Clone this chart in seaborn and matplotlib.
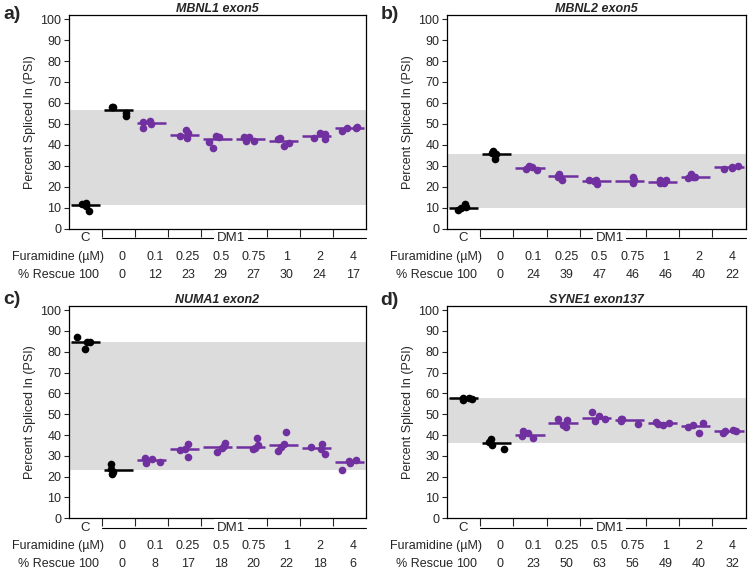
"""
Furamidine rescue of mis-splicing in DM1 cells: PSI per treatment group (4 panels)
"""

import numpy as np
import pandas as pd
import matplotlib
matplotlib.use("Agg")
import matplotlib.pyplot as plt
import matplotlib.transforms as mtransforms
import seaborn as sns

# 组别 (C = control, 其余 = DM1 + furamidine µM)
GROUPS = ["C", "0", "0.1", "0.25", "0.5", "0.75", "1", "2", "4"]
DOSES = ["", "0", "0.1", "0.25", "0.5", "0.75", "1", "2", "4"]

# panel a) MBNL1 exon5
PSI_A = [
    [11.0, 8.5, 11.6, 12.3],
    [53.7, 55.0, 57.9, 58.0],
    [47.9, 51.2, 51.0, 49.9],
    [43.1, 44.2, 45.5, 47.1],
    [41.5, 43.9, 38.3, 44.4],
    [41.7, 42.0, 43.9, 43.6],
    [39.6, 41.0, 43.1, 43.0],
    [43.1, 42.6, 45.0, 45.9],
    [48.6, 48.2, 47.9, 46.5],
]
RESCUE_A = [100, 0, 12, 23, 29, 27, 30, 24, 17]

# panel b) MBNL2 exon5
PSI_B = [
    [10.5, 11.8, 9.8, 9.2],
    [33.4, 35.6, 36.2, 37.2],
    [29.9, 28.0, 29.3, 28.6],
    [26.1, 23.5, 24.8, 25.2],
    [21.3, 23.2, 23.1, 22.9],
    [21.6, 23.2, 22.4, 24.5],
    [23.5, 23.2, 21.9, 21.8],
    [24.8, 24.5, 24.3, 25.9],
    [30.0, 28.3, 29.3, 29.2],
]
RESCUE_B = [100, 0, 24, 39, 47, 46, 46, 40, 22]

# panel c) NUMA1 exon2
PSI_C = [
    [84.8, 81.3, 84.5, 86.9],
    [25.9, 22.4, 21.3, 23.7],
    [28.8, 28.7, 26.7, 26.8],
    [35.5, 33.1, 29.6, 33.0],
    [36.2, 34.6, 33.6, 32.0],
    [38.7, 33.6, 33.5, 35.2],
    [41.6, 34.4, 35.8, 32.5],
    [34.1, 33.3, 35.5, 30.7],
    [28.2, 26.6, 23.0, 27.3],
]
RESCUE_C = [100, 0, 8, 17, 18, 20, 22, 18, 6]

# panel d) SYNE1 exon137
PSI_D = [
    [57.5, 57.9, 57.8, 56.7],
    [35.3, 37.9, 36.6, 33.1],
    [38.5, 41.9, 40.8, 39.5],
    [47.8, 47.0, 44.0, 44.9],
    [50.9, 49.0, 47.5, 46.5],
    [47.5, 46.7, 47.8, 45.3],
    [44.9, 45.8, 46.2, 45.4],
    [41.2, 45.6, 44.6, 44.0],
    [41.9, 41.9, 42.4, 41.0],
]
RESCUE_D = [100, 0, 23, 50, 63, 56, 49, 40, 32]

TITLES = ["MBNL1 exon5", "MBNL2 exon5", "NUMA1 exon2", "SYNE1 exon137"]
PANEL_TAGS = ["a)", "b)", "c)", "d)"]

# 配色
BLACK = "#000000"
PURPLE = "#7030A0"
BAND = "#dcdcdc"

sns.set_theme(style="ticks")
plt.rcParams["font.family"] = ["Liberation Sans", "DejaVu Sans"]
plt.rcParams["axes.linewidth"] = 0.9
np.random.seed(3)


def to_long(psi):
    rows = []
    for g, vals in zip(GROUPS, psi):
        for v in vals:
            rows.append({"group": g, "psi": v})
    return pd.DataFrame(rows)


def draw_panel(ax, psi, rescue, title):
    df = to_long(psi)
    ctrl = df[df["group"].isin(["C", "0"])]
    treat = df[~df["group"].isin(["C", "0"])]

    # 灰色区间: 对照中位数 → DM1 未处理中位数
    lo, hi = sorted([np.median(psi[0]), np.median(psi[1])])
    ax.axhspan(lo, hi, color=BAND, lw=0, zorder=0)

    for sub, col in [(ctrl, BLACK), (treat, PURPLE)]:
        sns.boxplot(data=sub, x="group", y="psi", order=GROUPS, ax=ax,
                    width=0.88, showbox=False, showcaps=False, showfliers=False,
                    whiskerprops={"visible": False},
                    medianprops={"color": col, "linewidth": 1.8}, zorder=3)
        sns.stripplot(data=sub, x="group", y="psi", order=GROUPS, ax=ax,
                      color=col, size=5.5, jitter=0.28, linewidth=0, zorder=4)

    ax.set_xlim(-0.5, len(GROUPS) - 0.5)
    ax.set_ylim(0, 102)
    ax.set_yticks(range(0, 101, 10))
    ax.set_xticks(np.arange(0.5, len(GROUPS) - 1, 1))
    ax.set_xticklabels([])
    ax.set_xlabel("")
    ax.set_ylabel("Percent Spliced In (PSI)", fontsize=9, labelpad=3)
    ax.tick_params(axis="y", labelsize=9, length=3.5, width=0.8, pad=2)
    ax.tick_params(axis="x", length=6, width=0.8)
    for s in ax.spines.values():
        s.set_visible(True)
        s.set_color("black")
    ax.set_title(title, fontsize=9, fontweight="bold", style="italic", pad=2)

    # 下方分组标注
    tr = mtransforms.blended_transform_factory(ax.transData, ax.transAxes)
    ax.text(0, -0.045, "C", transform=tr, ha="center", va="center", fontsize=9.5)
    ax.plot([0.5, 8.5], [-0.045, -0.045], transform=tr, color="black",
            lw=0.8, clip_on=False)
    ax.text(4.4, -0.045, "DM1", transform=tr, ha="center", va="center", fontsize=9.5,
            bbox=dict(facecolor="white", edgecolor="none", pad=2))
    ax.text(0.57, -0.132, "Furamidine (µM)", transform=tr, ha="right",
            va="center", fontsize=9)
    ax.text(-0.32, -0.217, "% Rescue", transform=tr, ha="right", va="center", fontsize=9)
    for i, (d, r) in enumerate(zip(DOSES, rescue)):
        if d:
            ax.text(i + 0.1, -0.132, d, transform=tr, ha="center", va="center", fontsize=9)
        ax.text(i + 0.1, -0.217, str(r), transform=tr, ha="center", va="center", fontsize=9)


fig = plt.figure(figsize=(7.5, 5.72), dpi=100)
positions = [
    [0.092, 0.600, 0.396, 0.374],
    [0.596, 0.600, 0.398, 0.374],
    [0.092, 0.094, 0.396, 0.371],
    [0.596, 0.094, 0.398, 0.371],
]
tag_xy = [(0.004, 0.975), (0.507, 0.975), (0.004, 0.477), (0.507, 0.474)]

for pos, psi, rescue, title, tag, (tx, ty) in zip(
        positions, [PSI_A, PSI_B, PSI_C, PSI_D],
        [RESCUE_A, RESCUE_B, RESCUE_C, RESCUE_D], TITLES, PANEL_TAGS, tag_xy):
    ax = fig.add_axes(pos)
    draw_panel(ax, psi, rescue, title)
    fig.text(tx, ty, tag, fontsize=14, fontweight="bold", ha="left", va="center")

fig.savefig("out.png", dpi=100)
plt.close(fig)
